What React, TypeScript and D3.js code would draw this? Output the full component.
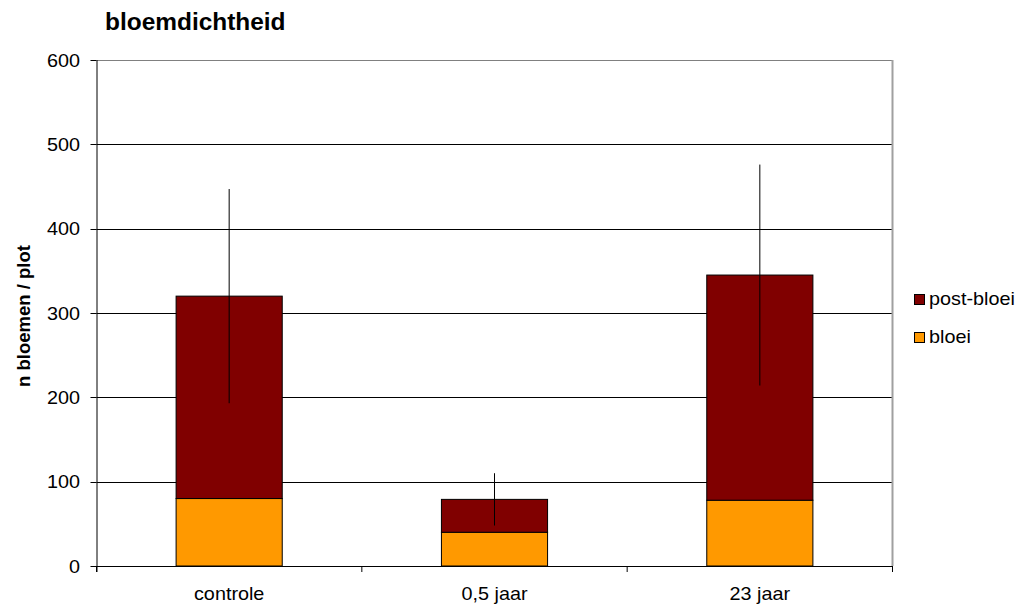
import React from "react";
import * as d3 from "d3";

const categories = ["controle", "0,5 jaar", "23 jaar"];
const bloei = [80, 40, 78];
const postBloei = [240, 39, 267];
const errorPlusMinus = [127, 31, 131];
const yTicks = [0, 100, 200, 300, 400, 500, 600];
const seriesNames = ["post-bloei", "bloei"];
const seriesColors = ["#800000", "#FF9900"];

const SX = 1.1;

function T({ x, y, size, anchor = "start", bold = false, children }: any) {
  return (
    <text
      transform={`translate(${x},${y}) scale(${SX},1)`}
      fontSize={size}
      textAnchor={anchor}
      fontWeight={bold ? "bold" : "normal"}
    >
      {children}
    </text>
  );
}

export default function App() {
  const W = 1025, H = 608;
  const left = 96.5, right = 892.5, top = 60, bottom = 566;
  const x = d3.scaleBand<string>().domain(categories).range([left, right]).paddingInner(0).paddingOuter(0);
  const y = d3.scaleLinear().domain([0, 600]).range([bottom, top]);
  const bw = x.bandwidth() * 0.4;
  const font = "Liberation Sans, Arial, sans-serif";
  return (
    <svg width={W} height={H} style={{ position: "absolute", left: 0, top: 0 }} fontFamily={font}>
      <rect x={0} y={0} width={W} height={H} fill="#fff" />
      <text transform={`translate(105,30) scale(1.04,1)`} fontSize={23.5} fontWeight="bold">bloemdichtheid</text>
      {yTicks.map((t) => (
        <g key={t}>
          {t > 0 && t < 600 && (
            <line x1={left} x2={right} y1={Math.round(y(t)) + 0.5} y2={Math.round(y(t)) + 0.5} stroke="#000" strokeWidth={1} />
          )}
          <line x1={left - 6} x2={left} y1={Math.round(y(t)) + 0.5} y2={Math.round(y(t)) + 0.5} stroke="#000" />
          <T x={80} y={y(t) + 6.5} size={18} anchor="end">{t}</T>
        </g>
      ))}
      <line x1={left} x2={right} y1={top + 0.5} y2={top + 0.5} stroke="#808080" />
      <line x1={right} x2={right} y1={top} y2={bottom} stroke="#a0a0a0" strokeWidth={2} />
      {categories.map((c, i) => {
        const cx = x(c)! + x.bandwidth() / 2;
        const total = bloei[i] + postBloei[i];
        return (
          <g key={c}>
            <rect x={cx - bw / 2} y={y(bloei[i])} width={bw} height={y(0) - y(bloei[i])} fill={seriesColors[1]} stroke="#000" strokeWidth={1} />
            <rect x={cx - bw / 2} y={y(total)} width={bw} height={y(bloei[i]) - y(total)} fill={seriesColors[0]} stroke="#000" strokeWidth={1} />
            <line x1={cx} x2={cx} y1={y(total + errorPlusMinus[i])} y2={y(total - errorPlusMinus[i])} stroke="#000" strokeWidth={1} />
            <T x={cx} y={600} size={18} anchor="middle">{c}</T>
          </g>
        );
      })}
      {[0, 1, 2, 3].map((k) => {
        const xx = k < 3 ? x(categories[k])! : right;
        return <line key={k} x1={xx} x2={xx} y1={bottom} y2={bottom + 6} stroke="#000" />;
      })}
      <line x1={left} x2={right} y1={bottom + 0.5} y2={bottom + 0.5} stroke="#000" />
      <line x1={left + 0.5} x2={left + 0.5} y1={top} y2={bottom + 6} stroke="#000" />
      <text transform={`translate(30,${316}) rotate(-90)`} fontSize={18.5} fontWeight="bold" textAnchor="middle">n bloemen / plot</text>
      {seriesNames.map((s, i) => (
        <g key={s}>
          <rect x={914.5} y={294.5 + i * 38} width={10} height={10} fill={seriesColors[i]} stroke="#000" />
          <T x={929} y={305 + i * 38} size={18}>{s}</T>
        </g>
      ))}
    </svg>
  );
}
